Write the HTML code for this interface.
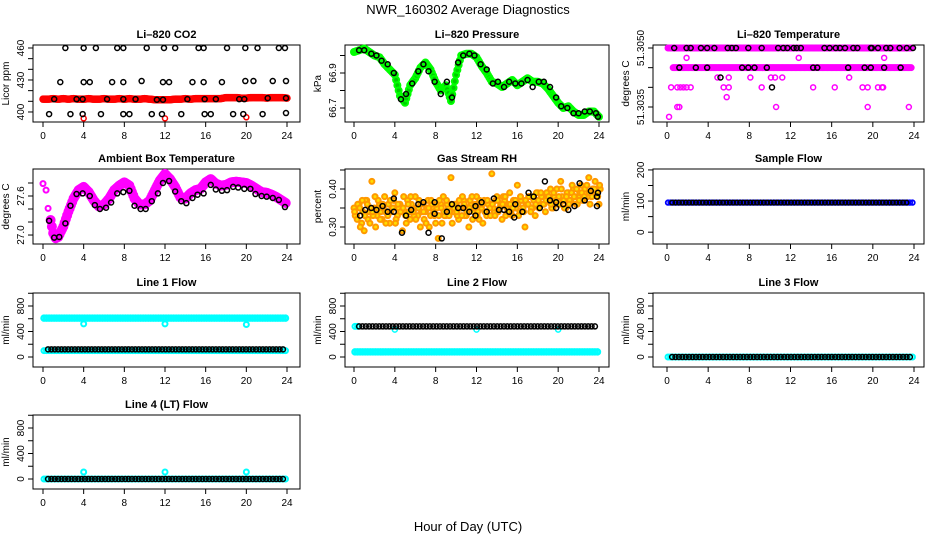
<!DOCTYPE html>
<html><head><meta charset="utf-8"><style>
body{margin:0;background:#fff;width:936px;height:540px;overflow:hidden}
svg{font-family:"Liberation Sans",sans-serif}
</style></head><body>
<svg id="c" width="936" height="540" viewBox="0 0 936 540">
<text x="468" y="14" text-anchor="middle" font-size="13">NWR_160302  Average Diagnostics</text>
<text x="468" y="531" text-anchor="middle" font-size="13">Hour of Day (UTC)</text>
</svg>
<script>
// ---------- data ----------
const hours = [0,4,8,12,16,20,24];
// CO2
const co2Red = [412,412,412.5,412,412.5,412,412.5,412,412,412.5,412,412,412.5,412,412,412.5,412,412.5,412,412,412.5,412,411.5,411.5,411.5,411.5,412,412,412.5,412,412.5,412.5,412.5,412.5,412.5,412.5,413.5,413.5,413.5,413,413,413.5,413.5,413.5,413,413.5,413.5,413.5,413];
const co2RedLowT = [4,12,20];
const co2RedLowV = [394,394,395];
const co2BlkT = [2.2,4,5.2,7.3,7.9,10.2,11.9,13,15.3,15.8,18.1,19.9,21.1,23.2,23.8, 1.7,4,4.6,6.8,7.9,9.7,11.8,12.4,14.7,15.8,17.6,19.9,20.7,22.6,23.9, 1.1,3.3,3.9,6.3,7.9,9.1,11.2,11.8,14.2,15.9,17,19.3,19.8,22.1,23.9, 0.6,2.7,3.9,5.7,7.9,8.5,10.7,11.7,13.6,15.9,16.5,18.7,19.7,21.6,23.9];
const co2BlkV = [460,460,460,460,460,460,460,460,460,460,460,460,460,460,460, 428,428,428,428,428,429,428,428,428,428,428,429,429,429,429, 412,412,412,412,412,412,411.5,411.5,412,412,412,412,412,413,413, 398,398,398,398,398,398,398,398,398,398,398,398,398,398,399];
// Pressure
const presGreen = [67.02,67.03,67.04,67.02,67.0,66.99,66.95,66.92,66.89,66.77,66.73,66.83,66.87,66.93,66.96,66.92,66.85,66.8,66.83,66.74,66.89,67.0,67.01,67.01,66.99,66.94,66.9,66.85,66.84,66.82,66.84,66.86,66.83,66.85,66.87,66.85,66.85,66.84,66.81,66.77,66.73,66.7,66.71,66.68,66.66,66.66,66.68,66.68,66.65];
const presBlkT = [0.5,1,1.7,2.2,2.7,3.3,3.9,4.6,5.1,5.7,6.3,6.8,7.3,7.9,8.5,9.1,9.6,10.2,10.7,11.3,11.8,12.4,13,13.6,14.1,14.7,15.2,15.8,16.4,17,17.5,18.1,18.6,19.2,19.8,20.3,20.9,21.5,22,22.6,23.1,23.7,23.9];
const presBlkV = [67.03,67.03,67.01,67.0,66.97,66.95,66.9,66.75,66.78,66.84,66.91,66.95,66.91,66.85,66.78,66.85,66.76,66.96,67.0,67.01,67.0,66.95,66.92,66.84,66.85,66.82,66.85,66.84,66.84,66.86,66.82,66.85,66.85,66.82,66.76,66.71,66.7,66.67,66.67,66.68,66.68,66.67,66.65];
// Li-820 temperature
const tmpMagT = [1.9,12.8,21.1,4.9,6,8.1,10.1,10.5,11.2,17.7,0.4,1,1.3,1.6,1.9,2.3,5.5,6,9.2,14.2,16.3,19,19.5,20.5,20.9,21,5.8,1,1.2,10.6,19.5,23.5,0.2];
const tmpMagV = [51.30475,51.30475,51.30475,51.30425,51.30425,51.30425,51.30425,51.30425,51.30425,51.30425,51.304,51.304,51.304,51.304,51.304,51.304,51.304,51.304,51.304,51.304,51.304,51.304,51.304,51.304,51.304,51.304,51.30375,51.3035,51.3035,51.3035,51.3035,51.3035,51.30325];
const tmpBandHigh = 51.3050;
const tmpBandMid = 51.3045;
const tmpBlkT = [0.7,1.9,2.3,3.3,3.9,4.6,5.9,6.3,6.7,7.9,9.2,10.8,11.3,11.7,12.3,12.6,13,15.3,15.8,16.4,16.8,17.3,18.1,18.5,19.8,19.9,20.5,21.3,21.7,22.6,23.3,23.9, 1.2,2.8,3.9,7.3,7.9,8.5,9.7,14.2,14.6,17.6,19.2,19.8,21.1,22.7, 5.2,10.2];
const tmpBlkV = [51.305,51.305,51.305,51.305,51.305,51.305,51.305,51.305,51.305,51.305,51.305,51.305,51.305,51.305,51.305,51.305,51.305,51.305,51.305,51.305,51.305,51.305,51.305,51.305,51.305,51.305,51.305,51.305,51.305,51.305,51.305,51.305, 51.3045,51.3045,51.3045,51.3045,51.3045,51.3045,51.3045,51.3045,51.3045,51.3045,51.3045,51.3045,51.3045,51.3045, 51.30425,51.304];
// Ambient box temperature
const ambT = [0,0.3,0.5,0.75,1,1.25,1.5,2,2.5,3,3.5,4,4.5,5,5.5,6,6.5,7,7.5,8,8.5,9,9.5,10,10.5,11,11.5,12,12.5,13,13.5,14,14.5,15,15.5,16,16.5,17,17.5,18,18.5,19,19.5,20,20.5,21,21.5,22,22.5,23,23.5,24];
const ambV = [27.79,27.69,27.41,27.23,27.03,26.95,26.97,27.13,27.36,27.56,27.69,27.74,27.66,27.53,27.44,27.47,27.56,27.69,27.76,27.81,27.76,27.56,27.47,27.47,27.53,27.69,27.84,27.94,27.86,27.74,27.58,27.56,27.64,27.69,27.71,27.81,27.86,27.79,27.76,27.77,27.81,27.82,27.81,27.8,27.76,27.71,27.66,27.65,27.62,27.58,27.53,27.48];
const ambBlkT = [0.6,1.1,1.6,2.2,2.7,3.3,3.9,4.6,5.1,5.6,6.2,6.7,7.3,7.9,8.5,9.0,9.6,10.1,10.7,11.3,11.8,12.4,13,13.6,14.1,14.7,15.2,15.8,16.5,17,17.6,18.1,18.7,19.2,19.8,20.4,20.9,21.5,22,22.6,23.2,23.8];
const ambBlkV = [27.22,26.96,26.97,27.18,27.45,27.63,27.64,27.6,27.46,27.4,27.42,27.5,27.64,27.66,27.68,27.45,27.4,27.4,27.52,27.64,27.8,27.83,27.67,27.52,27.49,27.57,27.62,27.64,27.77,27.7,27.68,27.69,27.74,27.73,27.71,27.71,27.63,27.6,27.59,27.57,27.54,27.43];
// Gas stream RH
const rhA = [0.35,0.33,0.36,0.31,0.29,0.37,0.34,0.42,0.35,0.33,0.36,0.32,0.38,0.34,0.31,0.35,0.39,0.33,0.36,0.29,0.34,0.37,0.32,0.35,0.38,0.33,0.30,0.36,0.34,0.37,0.33,0.35,0.31,0.27,0.36,0.38,0.33,0.35,0.43,0.34,0.36,0.32,0.35,0.37,0.33,0.30,0.36,0.34,0.38,0.32,0.35,0.37,0.33,0.36,0.44,0.34,0.38,0.35,0.32,0.37,0.35,0.39,0.33,0.36,0.41,0.34,0.37,0.30,0.36,0.38,0.35,0.33,0.39,0.36,0.38,0.34,0.37,0.40,0.35,0.38,0.36,0.42,0.37,0.35,0.39,0.37,0.40,0.36,0.38,0.41,0.37,0.39,0.43,0.38,0.40,0.39,0.36];
const rhB = [0.33,0.36,0.30,0.34,0.37,0.32,0.35,0.33,0.30,0.37,0.34,0.35,0.31,0.36,0.34,0.37,0.32,0.35,0.34,0.38,0.31,0.34,0.36,0.33,0.35,0.37,0.34,0.32,0.35,0.30,0.36,0.33,0.35,0.37,0.31,0.33,0.36,0.34,0.31,0.36,0.33,0.35,0.38,0.33,0.35,0.37,0.32,0.36,0.34,0.36,0.31,0.34,0.36,0.33,0.35,0.37,0.34,0.36,0.38,0.33,0.36,0.34,0.37,0.35,0.33,0.37,0.34,0.36,0.38,0.35,0.37,0.39,0.35,0.38,0.36,0.39,0.37,0.35,0.38,0.40,0.36,0.38,0.35,0.39,0.37,0.41,0.38,0.36,0.39,0.37,0.40,0.38,0.36,0.40,0.42,0.38,0.40];
const rhC = [0.34,0.32,0.35,0.37,0.33,0.36,0.31,0.34,0.38,0.35,0.32,0.36,0.34,0.33,0.37,0.35,0.31,0.36,0.34,0.35,0.33,0.36,0.38,0.34,0.32,0.35,0.36,0.34,0.31,0.35,0.37,0.34,0.36,0.33,0.35,0.34,0.37,0.33,0.36,0.35,0.34,0.37,0.33,0.36,0.34,0.35,0.38,0.35,0.33,0.37,0.36,0.34,0.37,0.35,0.36,0.33,0.37,0.35,0.36,0.38,0.34,0.36,0.35,0.37,0.36,0.38,0.35,0.37,0.36,0.34,0.38,0.36,0.37,0.39,0.36,0.37,0.38,0.36,0.39,0.37,0.38,0.40,0.37,0.38,0.36,0.39,0.38,0.40,0.37,0.39,0.38,0.41,0.39,0.38,0.40,0.39,0.41];
const rhBlkT = [0.6,1.1,1.7,2.2,2.8,3.3,3.9,3.9,4.7,5.1,5.6,6.3,6.8,7.3,7.9,7.9,8.6,9.1,9.6,10.2,10.7,11.3,11.9,11.9,12.5,13,13.7,14.2,14.7,15.2,15.7,15.8,16.5,17.1,17.6,18.2,18.7,19.2,19.8,19.8,20.5,21,21.6,22.1,22.6,23.2,23.8,23.8,23.9];
const rhBlkV = [0.33,0.345,0.35,0.345,0.355,0.34,0.34,0.375,0.285,0.33,0.345,0.36,0.365,0.285,0.335,0.365,0.27,0.34,0.36,0.35,0.35,0.34,0.33,0.355,0.365,0.34,0.375,0.345,0.345,0.34,0.325,0.36,0.34,0.39,0.38,0.35,0.42,0.37,0.35,0.365,0.36,0.345,0.355,0.415,0.37,0.395,0.355,0.38,0.39];
// Flows
const sampleFlowBlue = 95;
const sampleFlowBlack = 95;
const line1Cyan = 610, line1CyanLow = 100, line1Black = 120;
const line1DipT = [4,12,20], line1DipV = [520,520,510];
const line2Cyan = 80, line2Black = 480;
const line2DipT = [4,12,20], line2DipV = [430,430,430];
const line3Cyan = 0, line3Black = 0;
const line4Cyan = 0, line4Black = 0;
const line4BumpT = [4,12,20], line4BumpV = [110,110,110];
// ---------- drawing ----------
const svg = document.getElementById('c');
const NS = 'http://www.w3.org/2000/svg';
function mk(tag, attrs, parent){const e=document.createElementNS(NS,tag);for(const k in attrs)e.setAttribute(k,attrs[k]);(parent||svg).appendChild(e);return e;}
const cols=[{l:33,r:300,x0:43,x24:287},{l:345,r:609,x0:354,x24:599},{l:653,r:924,x0:667,x24:914}];
const rows=[{t:45,b:122},{t:169,b:244},{t:293,b:367},{t:415,b:489}];
function panel(name,title,ylab,ci,ri,ymin,ymax,ticks,labels,fmt){
  const c=cols[ci],r=rows[ri];
  const g=mk('g',{});
  
  
  const sx=t=>c.x0+(c.x24-c.x0)*t/24;
  const sy=v=>r.b-(v-ymin)/(ymax-ymin)*(r.b-r.t);
  const box=mk('rect',{x:c.l,y:r.t,width:c.r-c.l,height:r.b-r.t,fill:'none',stroke:'#000','stroke-width':1},g);
  
  
  const tt=mk('text',{x:(c.l+c.r)/2,y:r.t-7,'text-anchor':'middle','font-size':11,'font-weight':'bold'},g);
  tt.textContent=title;
  
  
  hours.forEach(h=>{
    mk('line',{x1:sx(h),x2:sx(h),y1:r.b,y2:r.b+5,stroke:'#000'},g);
    const tl=mk('text',{x:sx(h),y:r.b+17,'text-anchor':'middle','font-size':10},g);
    tl.textContent=h;
    
    
  });
  ticks.forEach(v=>{mk('line',{x1:c.l-5,x2:c.l,y1:sy(v),y2:sy(v),stroke:'#000'},g);});
  labels.forEach(v=>{
    const y=sy(v);
    const tl=mk('text',{x:0,y:0,'text-anchor':'middle','font-size':10,transform:`translate(${c.l-9},${y}) rotate(-90)`},g);
    tl.textContent=fmt?fmt(v):v;
    
    
  });
  const yl=mk('text',{x:0,y:0,'text-anchor':'middle','font-size':10,transform:`translate(${c.l-24},${(r.t+r.b)/2}) rotate(-90)`},g);
  yl.textContent=ylab;
  
  
  return {g,sx,sy};
}
function pts(p,ts,vs,color,rad,sw,nm,fill){
  ts.forEach((t,i)=>{
    const e=mk('circle',{cx:p.sx(t),cy:p.sy(vs[i]),r:rad,fill:fill||'none',stroke:color,'stroke-width':sw},p.g);
    
    
  });
}
const step=(n,d,s)=>{const a=[];for(let i=0;i<n;i++)a.push((s||0)+i*d);return a;};
const cst=(ts,v)=>ts.map(()=>v);
function interpHalf(arr,t){const i=Math.min(Math.floor(t*2),arr.length-1),f=t*2-i;const a=arr[i],b=arr[Math.min(i+1,arr.length-1)];return a+(b-a)*f;}
const K='#000';
// CO2
let p=panel('co2','Li\u2013820 CO2','Licor ppm',0,0,390.6,462.8,[400,410,420,430,440,450,460],[400,430,460]);
const redT=step(241,0.1);
pts(p,redT,redT.map(t=>interpHalf(co2Red,t)),'#f00',2.5,2.5,'co2-red-point','#f00');
pts(p,co2RedLowT,co2RedLowV,'#f00',2.5,1.5,'co2-red-low-point');
pts(p,co2BlkT,co2BlkV,K,2.5,1.5,'co2-black-point');
// Pressure
p=panel('pressure','Li\u2013820 Pressure','kPa',1,0,66.62,67.06,[66.7,66.8,66.9,67.0],[66.7,66.9],v=>v.toFixed(1));
const prT=step(193,0.125);
pts(p,prT,prT.map(t=>interpHalf(presGreen,t)),'#0f0',3,2,'pressure-green-point','#0c0');
pts(p,presBlkT,presBlkV,K,2.5,1.5,'pressure-black-point');
// Li-820 temperature
p=panel('li820-temp','Li\u2013820 Temperature','degrees C',2,0,51.303119,51.305076,[51.3035,51.304,51.3045,51.305],[51.3035,51.305],v=>v.toFixed(4));
const hiT=step(190,0.125,0.1), midT=step(186,0.125,0.6);
pts(p,hiT,cst(hiT,tmpBandHigh),'#f0f',2.5,2,'temp-magenta-band-high');
pts(p,midT,cst(midT,tmpBandMid),'#f0f',2.5,2,'temp-magenta-band-mid');
pts(p,tmpMagT,tmpMagV,'#f0f',2.5,1.5,'temp-magenta-point');
pts(p,tmpBlkT,tmpBlkV,K,2.5,1.5,'temp-black-point');
// Ambient
p=panel('ambient-temp','Ambient Box Temperature','degrees C',0,1,26.862,28.015,[27.0,27.2,27.4,27.6,27.8],[27.0,27.6],v=>v.toFixed(1));
const amT2=step(186,0.125,0.75);
pts(p,amT2,amT2.map(t=>{let i=0;while(i<ambT.length-2&&ambT[i+1]<t)i++;const f=(t-ambT[i])/(ambT[i+1]-ambT[i]);return ambV[i]+(ambV[i+1]-ambV[i])*f;}),'#f0f',3.5,3,'ambient-magenta-point','#f0f');
pts(p,ambT.slice(0,5),ambV.slice(0,5),'#f0f',2.5,2,'ambient-magenta-start-point');
pts(p,ambBlkT,ambBlkV,K,2.5,1.5,'ambient-black-point');
// RH
p=panel('rh','Gas Stream RH','percent',1,1,0.2553,0.4526,[0.3,0.35,0.4,0.45],[0.3,0.4],v=>v.toFixed(2));
pts(p,step(rhA.length,0.25),rhA,'#f90',2.5,2,'rh-orange-point','#fd0');
pts(p,step(rhB.length,0.25,0.12),rhB,'#f90',2.5,2,'rh-orange-point','#fd0');
pts(p,step(rhC.length,0.25,0.06),rhC,'#f90',2.5,2,'rh-orange-point','#fd0');
pts(p,rhBlkT,rhBlkV,K,2.5,1.5,'rh-black-point');
// Sample flow
p=panel('sample-flow','Sample Flow','ml/min',2,1,-38,203,[0,50,100,150,200],[0,100,200]);
const sfT=step(96,0.25,0.1), sbT=step(70,0.33,0.5);
pts(p,sfT,cst(sfT,sampleFlowBlue),'#00f',2.3,1.8,'sample-flow-blue-point');
pts(p,sbT,cst(sbT,sampleFlowBlack),K,2.3,1.5,'sample-flow-black-point');
const flowTicks=[0,200,400,600,800,1000], flowLabels=[0,400,800];
const cyT=step(96,0.25,0.1), bkT=step(71,0.33,0.5);
// Line 1
p=panel('line1-flow','Line 1 Flow','ml/min',0,2,-157,1004,flowTicks,flowLabels);
pts(p,cyT,cst(cyT,line1CyanLow),'#0ff',2.5,2,'line1-cyan-low-point');
pts(p,cyT,cst(cyT,line1Cyan),'#0ff',2.5,2.5,'line1-cyan-point');
pts(p,line1DipT,line1DipV,'#0ff',2.5,2,'line1-cyan-dip-point');
pts(p,bkT,cst(bkT,line1Black),K,2.5,1.5,'line1-black-point');
// Line 2
p=panel('line2-flow','Line 2 Flow','ml/min',1,2,-157,1004,flowTicks,flowLabels);
pts(p,cyT,cst(cyT,line2Cyan),'#0ff',2.5,2.5,'line2-cyan-point');
pts(p,cyT.slice(0,2),cst(cyT.slice(0,2),line2Black),'#0ff',2.5,2,'line2-cyan-start-point');
pts(p,line2DipT,line2DipV,'#0ff',2.5,1.5,'line2-cyan-dip-point');
pts(p,bkT,cst(bkT,line2Black),K,2.5,1.5,'line2-black-point');
// Line 3
p=panel('line3-flow','Line 3 Flow','ml/min',2,2,-157,1004,flowTicks,flowLabels);
pts(p,cyT,cst(cyT,line3Cyan),'#0ff',2.5,2,'line3-cyan-point');
pts(p,bkT,cst(bkT,line3Black),K,2.5,1.5,'line3-black-point');
// Line 4
p=panel('line4-flow','Line 4 (LT) Flow','ml/min',0,3,-157,1004,flowTicks,flowLabels);
pts(p,cyT,cst(cyT,line4Cyan),'#0ff',2.5,2,'line4-cyan-point');
pts(p,line4BumpT,line4BumpV,'#0ff',2.5,2,'line4-cyan-bump-point');
pts(p,bkT,cst(bkT,line4Black),K,2.5,1.5,'line4-black-point');
</script>
</body></html>
